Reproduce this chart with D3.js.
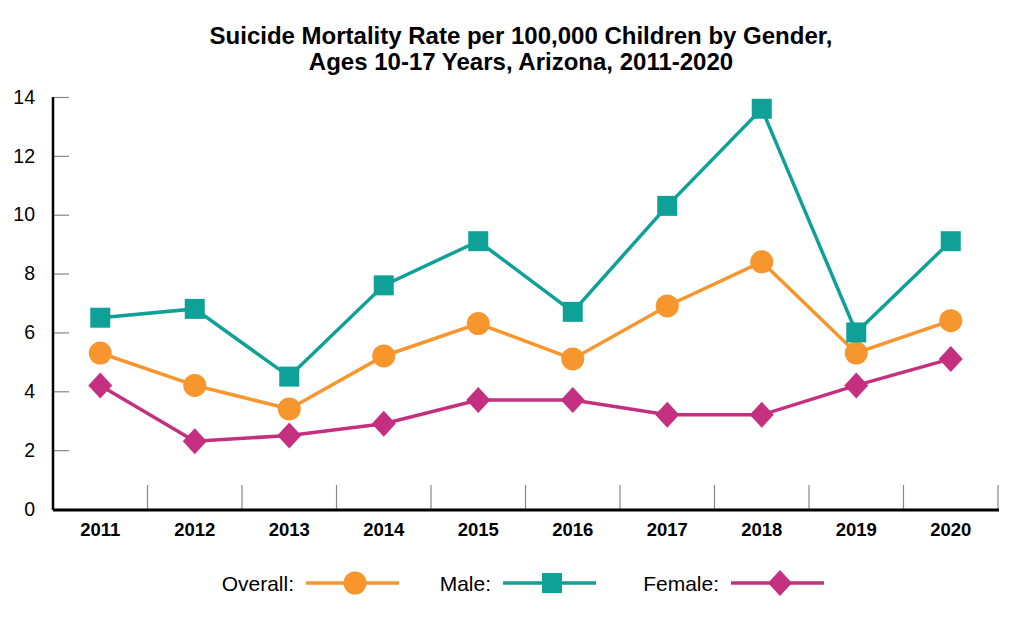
<!DOCTYPE html>
<html>
<head>
<meta charset="utf-8">
<script src="https://cdn.jsdelivr.net/npm/d3@7"></script>
<style>
  body { margin: 0; background: #fff; }
  svg { font-family: "Liberation Sans", Arial, sans-serif; display: block; }
</style>
</head>
<body>
<svg id="chart" width="1024" height="621"></svg>
<script>
// years on the x axis
const years = ["2011", "2012", "2013", "2014", "2015", "2016", "2017", "2018", "2019", "2020"];
// rates per 100,000
const overall = [5.3, 4.2, 3.4, 5.2, 6.3, 5.1, 6.9, 8.4, 5.3, 6.4];
const male = [6.5, 6.8, 4.5, 7.6, 9.1, 6.7, 10.3, 13.6, 6.0, 9.1];
const female = [4.2, 2.3, 2.5, 2.9, 3.7, 3.7, 3.2, 3.2, 4.2, 5.1];
const yTicks = [0, 2, 4, 6, 8, 10, 12, 14];
const titleLines = [
  "Suicide Mortality Rate per 100,000 Children by Gender,",
  "Ages 10-17 Years, Arizona, 2011-2020"
];

const series = [
  { label: "Overall:", values: overall, color: "#F7962D", shape: "circle" },
  { label: "Male:", values: male, color: "#0FA197", shape: "square" },
  { label: "Female:", values: female, color: "#C4307F", shape: "diamond" }
];

const svg = d3.select("#chart");
const margin = { top: 97, left: 53, bottom: 509, right: 998 };

const x = d3.scaleBand().domain(years).range([margin.left, margin.right]);
const y = d3.scaleLinear().domain([0, 14]).range([margin.bottom, margin.top]);

// title
svg.append("g")
  .selectAll("text")
  .data(titleLines)
  .join("text")
  .attr("x", 521)
  .attr("y", (d, i) => 43.5 + i * 26.5)
  .attr("text-anchor", "middle")
  .style("font-size", "24px")
  .style("font-weight", "bold")
  .text(d => d);

// y axis, ticks point inward
const yAxis = d3.axisRight(y).tickValues(yTicks).tickSize(16).tickFormat(d3.format("d"));
const gy = svg.append("g").attr("transform", `translate(${margin.left},0)`).call(yAxis);
gy.select(".domain").remove();
gy.selectAll(".tick line").attr("stroke", "#888").attr("stroke-width", 1.2);
gy.selectAll(".tick text")
  .attr("x", -18)
  .attr("text-anchor", "end")
  .attr("fill", "#000")
  .style("font-size", "19.5px");
svg.append("line")
  .attr("x1", margin.left).attr("x2", margin.left)
  .attr("y1", y(14)).attr("y2", y(0) + 1)
  .attr("stroke", "#000").attr("stroke-width", 2.5);

// x axis: category labels, separators between bands
const xAxis = d3.axisBottom(x).tickSize(0).tickPadding(14);
const gx = svg.append("g").attr("transform", `translate(0,${y(0)})`).call(xAxis);
gx.select(".domain").remove();
gx.selectAll(".tick text")
  .attr("fill", "#000")
  .style("font-size", "18.5px")
  .style("font-weight", "bold");

svg.append("g")
  .selectAll("line")
  .data(years)
  .join("line")
  .attr("x1", d => x(d) + x.bandwidth())
  .attr("x2", d => x(d) + x.bandwidth())
  .attr("y1", y(0) - 24)
  .attr("y2", y(0))
  .attr("stroke", "#888")
  .attr("stroke-width", 1.2);

svg.append("line")
  .attr("x1", margin.left).attr("x2", margin.right + 1)
  .attr("y1", y(0) + 1).attr("y2", y(0) + 1)
  .attr("stroke", "#000").attr("stroke-width", 3);

// marker drawing helper
function drawMarker(sel, shape, color) {
  if (shape === "circle") {
    sel.append("circle").attr("r", 11.5).attr("fill", color);
  } else if (shape === "square") {
    sel.append("rect").attr("x", -10).attr("y", -10).attr("width", 20).attr("height", 20).attr("fill", color);
  } else {
    sel.append("path").attr("d", "M0,-13L12,0L0,13L-12,0Z").attr("fill", color);
  }
}

const line = d3.line()
  .x((d, i) => x(years[i]) + x.bandwidth() / 2)
  .y(d => y(d));

series.forEach(s => {
  svg.append("path")
    .datum(s.values)
    .attr("d", line)
    .attr("fill", "none")
    .attr("stroke", s.color)
    .attr("stroke-width", 3.5);
  svg.append("g")
    .selectAll("g")
    .data(s.values)
    .join("g")
    .attr("transform", (d, i) => `translate(${x(years[i]) + x.bandwidth() / 2},${y(d)})`)
    .each(function () { drawMarker(d3.select(this), s.shape, s.color); });
});

// legend
const legendX = [294, 491, 719];
const legend = svg.append("g").attr("transform", "translate(0,583)");
series.forEach((s, i) => {
  const g = legend.append("g").attr("transform", `translate(${legendX[i]},0)`);
  g.append("text")
    .attr("x", 0).attr("y", 7.5)
    .attr("text-anchor", "end")
    .style("font-size", "21px")
    .text(s.label);
  g.append("line")
    .attr("x1", 12).attr("x2", 105)
    .attr("stroke", s.color).attr("stroke-width", 3.5);
  const m = g.append("g").attr("transform", "translate(61,0)");
  drawMarker(m, s.shape, s.color);
});
</script>
</body>
</html>
